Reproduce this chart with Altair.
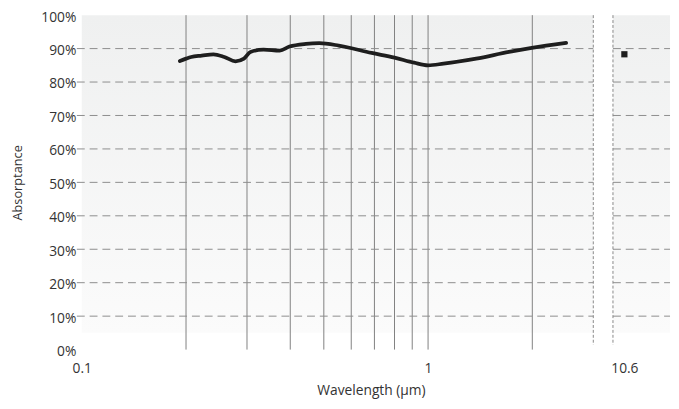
import altair as alt
import pandas as pd

# ---- data ----
wavelength = [0.192, 0.200, 0.207, 0.222, 0.240, 0.258, 0.278, 0.294, 0.307, 0.335,
              0.373, 0.398, 0.444, 0.485, 0.552, 0.687, 0.800, 0.911, 1.000, 1.108,
              1.377, 1.712, 1.993, 2.505]
absorptance = [86.3, 87.0, 87.5, 87.9, 88.3, 87.5, 86.2, 87.0, 89.0, 89.7,
               89.4, 90.6, 91.4, 91.6, 90.9, 88.7, 87.3, 85.8, 85.0, 85.5,
               87.0, 89.0, 90.2, 91.7]
co2_wavelength = [10.6]
co2_absorptance = [88.3]
grid_y = [10, 20, 30, 40, 50, 60, 70, 80, 90]
grid_x = [0.2, 0.3, 0.4, 0.5, 0.6, 0.7, 0.8, 0.9, 1, 2]
y_ticks = [0, 10, 20, 30, 40, 50, 60, 70, 80, 90, 100]
x_left_domain = [0.1, 3]
x_right_domain = [10, 13]

curve = pd.DataFrame({"wl": wavelength, "a": absorptance})
pt = pd.DataFrame({"wl": co2_wavelength, "a": co2_absorptance})
gy = pd.DataFrame({"y": grid_y})
gx = pd.DataFrame({"x": grid_x})

FONT = "Open Sans"
TXT = "#333333"
LW, RW, H = 520, 58, 340

grad = alt.LinearGradient(
    gradient="linear",
    stops=[alt.GradientStop(color="#eff0f0", offset=0),
           alt.GradientStop(color="#fbfbfb", offset=1)],
    x1=0, x2=0, y1=0, y2=1,
)

yscale = alt.Scale(domain=[0, 100], nice=False, zero=True)
xl = alt.Scale(type="log", domain=x_left_domain, nice=False)
xr = alt.Scale(type="linear", domain=x_right_domain, nice=False, zero=False)

yaxis = alt.Axis(values=y_ticks, labelExpr="datum.value + '%'",
                 domain=False, ticks=False, grid=False, labelPadding=6,
                 labelFontSize=14, labelOffset=2, labelOverlap=False, labelBound=False,
                 title="Absorptance", titleFontSize=13, titlePadding=17,
                 titleFontWeight="normal")

xaxis_l = alt.Axis(values=[0.1, 1], labelExpr="format(datum.value, '~g')",
                   domain=False, ticks=False, grid=False, labelPadding=12,
                   labelFontSize=14, labelFlush=False, labelOverlap=False,
                   title="Wavelength (µm)", titleFontSize=14,
                   titleFontWeight="normal", titleX=294, titlePadding=9)
xaxis_r = alt.Axis(values=co2_wavelength, labelExpr="'10.6'", domain=False, ticks=False,
                   grid=False, labelPadding=12, labelFontSize=14, labelFlush=False,
                   labelOverlap=False, title=None)

DASH = [8, 5]


def YL(field=None, datum=None):
    if field is not None:
        return alt.Y(field, scale=yscale, axis=yaxis)
    return alt.Y(datum=datum, scale=yscale, axis=yaxis)


def XL(field=None, datum=None):
    if field is not None:
        return alt.X(field, scale=xl, axis=xaxis_l)
    return alt.X(datum=datum, scale=xl, axis=xaxis_l)


def YR(field=None, datum=None):
    if field is not None:
        return alt.Y(field, scale=yscale, axis=None)
    return alt.Y(datum=datum, scale=yscale, axis=None)


def XR(field=None, datum=None):
    if field is not None:
        return alt.X(field, scale=xr, axis=xaxis_r)
    return alt.X(datum=datum, scale=xr, axis=xaxis_r)


# ---- left panel ----
bg_l = alt.Chart(pd.DataFrame({"x": [x_left_domain[0]], "x2": [x_left_domain[1]],
                               "y": [100], "y2": [5]})).mark_rect(color=grad).encode(
    x=XL("x:Q"), x2="x2:Q", y=YL("y:Q"), y2="y2:Q")

hgrid_l = alt.Chart(gy).mark_rule(color="#8c8c8c", strokeDash=DASH, strokeWidth=1).encode(
    y=YL("y:Q"), x=alt.value(-5), x2=alt.value(LW))

vgrid = alt.Chart(gx).mark_rule(color="#7f7f7f", strokeWidth=1).encode(
    x=XL("x:Q"), y=YL(datum=100), y2=alt.datum(0))

edge_l = alt.Chart(pd.DataFrame({"x": [x_left_domain[1]]})).mark_rule(
    color="#888888", strokeDash=[3, 2], strokeWidth=1).encode(
    x=XL("x:Q"), y=YL(datum=100), y2=alt.datum(1.4))

line = alt.Chart(curve).mark_line(color="#1e1e1e", strokeWidth=3.8,
                                  interpolate="monotone", strokeCap="round").encode(
    x=XL("wl:Q"), y=YL("a:Q"))

left = alt.layer(bg_l, vgrid, hgrid_l, edge_l, line).properties(width=LW, height=H)

# ---- right panel ----
bg_r = alt.Chart(pd.DataFrame({"x": [x_right_domain[0]], "x2": [x_right_domain[1]],
                               "y": [100], "y2": [5]})).mark_rect(color=grad).encode(
    x=XR("x:Q"), x2="x2:Q", y=YR("y:Q"), y2="y2:Q")

hgrid_r = alt.Chart(gy).mark_rule(color="#8c8c8c", strokeDash=DASH, strokeWidth=1).encode(
    y=YR("y:Q"), x=alt.value(0), x2=alt.value(RW))

edge_r = alt.Chart(pd.DataFrame({"x": [x_right_domain[0]]})).mark_rule(
    color="#888888", strokeDash=[3, 2], strokeWidth=1).encode(
    x=XR("x:Q"), y=YR(datum=100), y2=alt.datum(1.4))

point = alt.Chart(pt).mark_square(color="#1e1e1e", size=40, opacity=1).encode(
    x=XR("wl:Q"), y=YR("a:Q"))

right = alt.layer(bg_r, hgrid_r, edge_r, point).properties(width=RW, height=H)

chart = alt.hconcat(left, right, spacing=16).resolve_scale(
    x="independent", y="independent"
).properties(
    padding={"left": 3, "top": -1, "right": 0, "bottom": 0}
).configure_view(stroke=None).configure_axis(
    labelFont=FONT, titleFont=FONT, labelColor=TXT, titleColor=TXT
)

chart.save("out.html", embed_options={"renderer": "svg", "actions": False})
